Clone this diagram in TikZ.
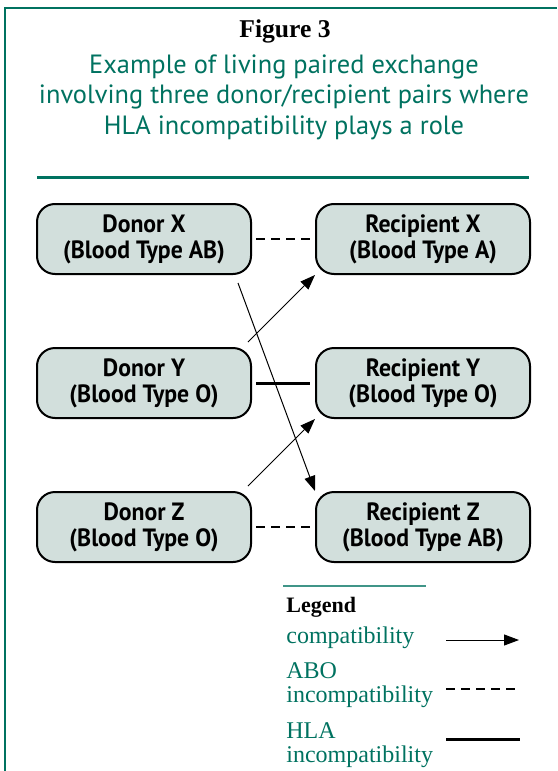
\documentclass[tikz,border=0pt]{standalone}
\usepackage{fontspec}
\setmainfont{Liberation Serif}
\newfontfamily\headfont{PT Sans}
\newfontfamily\pairfont[FakeStretch=0.95]{PT Sans}
\usetikzlibrary{arrows.meta,positioning}
\definecolor{figgreen}{RGB}{0,114,96}
\definecolor{pairfill}{RGB}{210,223,220}
\tikzset{
    pairbox/.style={draw=black, line width=1pt, fill=pairfill, rounded corners=9pt,
        minimum width=107pt, minimum height=35pt, inner sep=0pt, align=center,
        font=\pairfont\bfseries\fontsize{12.5}{13}\selectfont},
    compat/.style={-{Triangle[length=7.5pt,width=5.5pt]}, line width=0.5pt},
    aboinc/.style={line width=1.3pt, dash pattern=on 4.5pt off 3pt},
    hlainc/.style={line width=1.5pt},
    legtext/.style={figgreen, inner sep=0pt, align=left,
        font=\fontsize{12}{12}\selectfont},
}

\begin{document}
\begin{tikzpicture}[x=0.5pt, y=-0.5pt]
    \useasboundingbox (0,0) rectangle (557,771);

    % Frame and heading
    \draw[figgreen, line width=1pt] (4.5,771) -- (4.5,8) -- (557,8);
    \node[anchor=base, inner sep=0pt, font=\bfseries\fontsize{12.8}{15}\selectfont] (fig) at (285,37) {Figure 3};
    \node[figgreen, inner sep=0pt, align=center, font=\headfont\fontsize{13.2}{15.2}\selectfont] (title) at (284,97)
        {Example of living paired exchange\\involving three donor/recipient pairs where\\HLA incompatibility plays a role};
    \draw[figgreen, line width=1.5pt] (37,177) -- (529,177);

    % Donor and recipient pairs
    \node[pairbox] (dx) at (144,239) {Donor X\\(Blood Type AB)};
    \node[pairbox, right=31.5pt of dx] (rx) {Recipient X\\(Blood Type A)};
    \node[pairbox, below=36pt of dx] (dy) {Donor Y\\(Blood Type O)};
    \node[pairbox, right=31.5pt of dy] (ry) {Recipient Y\\(Blood Type O)};
    \node[pairbox, below=36pt of dy] (dz) {Donor Z\\(Blood Type O)};
    \node[pairbox, right=31.5pt of dz] (rz) {Recipient Z\\(Blood Type AB)};

    % Incompatibilities within the pairs
    \draw[aboinc, shorten <=2pt, shorten >=2.5pt] (dx) -- (rx);
    \draw[hlainc, shorten <=2pt, shorten >=2.5pt] (dy) -- (ry);
    \draw[aboinc, shorten <=2pt, shorten >=2.5pt] (dz) -- (rz);

    % Exchange
    \draw[compat] ([xshift=-2pt,yshift=2.5pt]dy.north east) -- (rx.south west);
    \draw[compat] ([xshift=-2pt,yshift=2.5pt]dz.north east) -- (ry.south west);
    \draw[compat] ([xshift=-7pt,yshift=-4pt]dx.south east) -- (rz.north west);

    % Legend
    \draw[figgreen!75, line width=0.7pt] (283,586) -- (426,586);
    \node[anchor=base west, inner sep=0pt, font=\bfseries\fontsize{11}{12}\selectfont] (leg) at (286,612) {Legend};
    \node[legtext, anchor=base west] (lc) at (286,643) {compatibility};
    \node[legtext, anchor=north west] (la) at (286,662) {ABO\\incompatibility};
    \node[legtext, anchor=north west] (lh) at (286,722) {HLA\\incompatibility};
    \coordinate (c1) at (446,640);
    \coordinate (c2) at (519,640);
    \coordinate (a1) at (446,689);
    \coordinate (a2) at (520,689);
    \coordinate (h1) at (446,739);
    \coordinate (h2) at (520,739);
    \draw[compat] (c1) -- (c2);
    \draw[aboinc] (a1) -- (a2);
    \draw[hlainc] (h1) -- (h2);

\end{tikzpicture}
\end{document}
